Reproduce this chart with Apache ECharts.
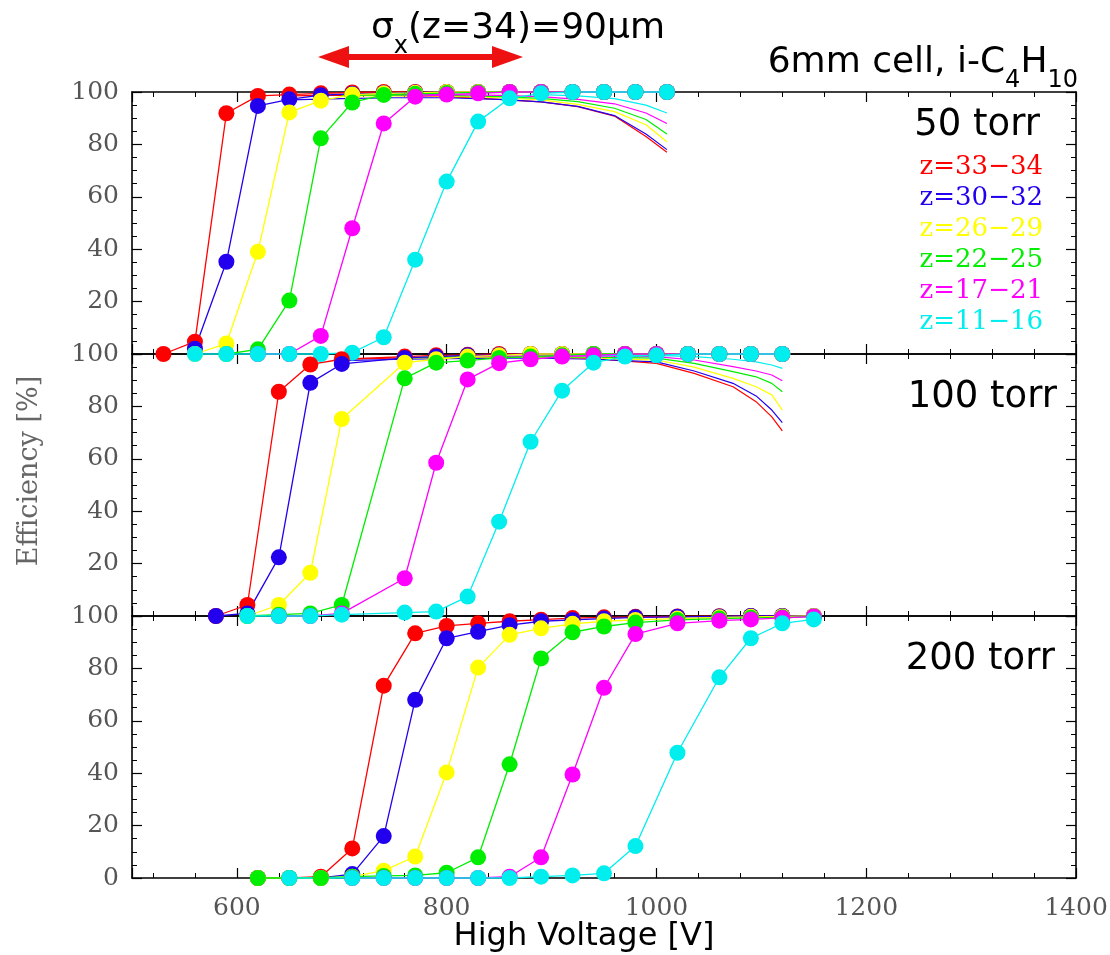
<!DOCTYPE html>
<html>
<head>
<meta charset="utf-8">
<title>Efficiency vs High Voltage</title>
<script src="https://cdn.jsdelivr.net/npm/echarts@6/dist/echarts.min.js"></script>
<style>
  html, body { margin: 0; padding: 0; background: #fff; }
  #chart { width: 1110px; height: 955px; }
</style>
</head>
<body>
<div id="chart"></div>
<script>
// z-ranges (legend), one colour each
var zNames = ["z=33\u221234", "z=30\u221232", "z=26\u221229", "z=22\u221225", "z=17\u221221", "z=11\u221216"];
var zColors = ["#ff0000", "#2200ee", "#ffff00", "#00ee00", "#ff00ff", "#00eeee"];
var panelLabels = ["50 torr", "100 torr", "200 torr"];

// ---- 50 torr : measured points ----
var hv50 = [530, 560, 590, 620, 650, 680, 710, 740, 770, 800, 830, 860, 890, 920, 950, 980, 1010];
var red50 = [0, 4.7, 91.9, 98.5, 99, 99.5, 99.8, 100, 100, 100, 100, 100, 100, 100, 100, 100, 100];
var blue50 = [null, 2, 35.2, 94.7, 97.2, 98.8, 99.3, 99.6, 99.8, 100, 100, 100, 100, 100, 100, 100, 100];
var yellow50 = [null, 0, 4, 39, 92.2, 96.7, 99, 99.5, 99.7, 100, 100, 100, 100, 100, 100, 100, 100];
var green50 = [null, null, 0, 1.8, 20.4, 82.3, 96, 98.9, 99.3, 99.6, 99.8, 100, 100, 100, 100, 100, 100];
var magenta50 = [null, null, null, 0, 0, 6.9, 48, 88, 98.2, 99, 99.5, 100, 100, 100, 100, 100, 100];
var cyan50 = [null, 0, 0, 0, 0, 0, 0.5, 6.4, 36, 65.8, 88.7, 97.6, 99.5, 100, 100, 100, 100];
// 50 torr : fall-off curves at high voltage
var tail50 = [650, 700, 750, 800, 850, 890, 925, 960, 990, 1010];
var red50t = [98.5, 98.8, 98.7, 98.2, 97.2, 96.2, 94.4, 90.8, 83, 77];
var blue50t = [97, 97.5, 97.8, 97.8, 97.2, 96.2, 94.5, 91, 84, 78];
var yellow50t = [null, 98.5, 98.6, 98.4, 97.8, 97, 95.3, 92.5, 87.5, 81];
var green50t = [null, 98.7, 98.9, 98.7, 98.2, 97.6, 96.3, 93.8, 89.5, 84];
var magenta50t = [null, null, 99, 99, 98.7, 98.2, 97.2, 95.5, 92, 88];
var cyan50t = [null, null, null, null, null, 99, 98.5, 97.5, 95, 92];

// ---- 100 torr ----
var hv100 = [580, 610, 640, 670, 700, 760, 790, 820, 850, 880, 910, 940, 970, 1000, 1030, 1060, 1090, 1120];
var red100 = [0, 4.2, 85.6, 96, 98, 99, 99.5, 99.7, 100, 100, 100, 100, 100, 100, 100, 100, 100, 100];
var blue100 = [0, 1, 22.4, 89, 96.2, 98.5, 99, 99.5, 99.7, 100, 100, 100, 100, 100, 100, 100, 100, 100];
var yellow100 = [null, 0, 4.2, 16.5, 75.2, 96.7, 98, 99, 99.5, 100, 100, 100, 100, 100, 100, 100, 100, 100];
var green100 = [null, 0, 0.5, 1, 4.2, 90.7, 96.7, 97.5, 98.5, 99, 99.5, 100, 100, 100, 100, 100, 100, 100];
var magenta100 = [null, null, 0, 0, 1, 14.4, 58.5, 90.3, 96.5, 98, 99, 99.5, 100, 100, 100, 100, 100, 100];
var cyan100 = [null, 0, 0, 0, 0.5, 1.3, 1.7, 7.4, 36, 66.5, 86, 96.7, 99, 99.5, 100, 100, 100, 100];
var tail100 = [700, 760, 820, 880, 940, 1000, 1036, 1073, 1095, 1110, 1120];
var red100t = [98, 98.5, 98.8, 98.8, 98.2, 96.4, 92.6, 87.5, 81.8, 76, 70.7];
var blue100t = [97.5, 98, 98.3, 98.5, 98, 97, 93.5, 88.8, 84, 78.6, 73.8];
var yellow100t = [null, 98.5, 98.8, 98.8, 98.5, 97.7, 95, 90.7, 87.5, 84.4, 78.6];
var green100t = [null, 98.5, 99, 99, 98.8, 98.4, 96.4, 93.3, 91.3, 88.8, 85.6];
var magenta100t = [null, null, 99, 99.3, 99.3, 99, 97.7, 95.2, 93.5, 92, 89.8];
var cyan100t = [null, null, null, null, 99.5, 99.5, 99, 98, 97, 95.8, 94.5];

// ---- 200 torr ----
var hv200 = [620, 650, 680, 710, 740, 770, 800, 830, 860, 890, 920, 950, 980, 1020, 1060, 1090, 1120, 1150];
var red200 = [0, 0, 0.5, 11.3, 73.4, 93.4, 96.2, 97.2, 98, 98.6, 99.2, 99.5, 99.7, 99.8, 99.9, 100, 100, 100];
var blue200 = [0, 0, 0, 1.5, 16, 68, 91.5, 94, 96.5, 98, 98.5, 99, 99.5, 99.7, 99.8, 100, 100, 100];
var yellow200 = [0, 0, 0, 0.5, 2.8, 8.2, 40.3, 80.3, 92.8, 95.3, 97, 98, 98.5, 99, 99.5, 99.7, 99.8, 100];
var green200 = [0, 0, 0, 0.5, 0.8, 1, 2, 7.9, 43.4, 83.8, 93.8, 96, 97.5, 98.5, 99, 99.3, 99.5, 99.8];
var magenta200 = [null, null, null, 0, 0, 0, 0, 0, 0.5, 7.9, 39.5, 72.6, 93.1, 97.2, 98.2, 98.7, 99.3, 99.8];
var cyan200 = [null, 0, null, 0, 0, 0, 0, 0, 0, 0.5, 1, 1.8, 12.2, 47.8, 76.6, 91.5, 97.2, 98.7];

var yTicks = [0, 20, 40, 60, 80, 100];
var xTicks = [600, 800, 1000, 1200, 1400];

var panels = [
  { x: hv50, ys: [red50, blue50, yellow50, green50, magenta50, cyan50],
    tx: tail50, tys: [red50t, blue50t, yellow50t, green50t, magenta50t, cyan50t] },
  { x: hv100, ys: [red100, blue100, yellow100, green100, magenta100, cyan100],
    tx: tail100, tys: [red100t, blue100t, yellow100t, green100t, magenta100t, cyan100t] },
  { x: hv200, ys: [red200, blue200, yellow200, green200, magenta200, cyan200],
    tx: null, tys: [] }
];

function pairs(xs, ys) {
  var out = [];
  for (var i = 0; i < xs.length; i++) {
    if (ys[i] != null) out.push([xs[i], ys[i]]);
  }
  return out;
}

var chart = echarts.init(document.getElementById("chart"), null, { renderer: "canvas" });

var PLOT_LEFT = 132, PLOT_W = 944, PANEL_H = 262, PLOT_TOP = 92;
var serif = "'DejaVu Serif', serif";
var sans = "'DejaVu Sans', sans-serif";

var grids = [], xAxes = [], yAxes = [], series = [];
panels.forEach(function (p, g) {
  grids.push({ left: PLOT_LEFT, top: PLOT_TOP + g * PANEL_H, width: PLOT_W, height: PANEL_H, outerBoundsMode: "none" });
  var isLast = g === panels.length - 1;
  ["bottom", "top"].forEach(function (pos) {
    // no interval here: 500 is not a multiple of 200, so let the axis find 600, 800, ...
    xAxes.push({
      gridIndex: g, type: "value", position: pos, min: 500, max: 1400, splitNumber: 5,
      axisLine: { onZero: false, lineStyle: { color: "#000", width: 1.6 } },
      axisTick: { inside: true, length: 10, lineStyle: { color: "#000", width: 1.2 } },
      minorTick: { show: true, splitNumber: 5, length: 5, lineStyle: { color: "#000", width: 1 } },
      splitLine: { show: false },
      axisLabel: {
        show: isLast && pos === "bottom", margin: 18, color: "#555", fontSize: 25, fontFamily: serif,
        showMinLabel: false,
        formatter: function (v) { return xTicks.indexOf(v) >= 0 ? String(v) : ""; }
      }
    });
  });
  ["left", "right"].forEach(function (pos) {
    yAxes.push({
      gridIndex: g, type: "value", position: pos, min: 0, max: 100, interval: 20,
      axisLine: { onZero: false, lineStyle: { color: "#000", width: 1.6 } },
      axisTick: { inside: true, length: 10, lineStyle: { color: "#000", width: 1.2 } },
      minorTick: { show: true, splitNumber: 4, length: 5, lineStyle: { color: "#000", width: 1 } },
      splitLine: { show: false },
      axisLabel: {
        show: pos === "left", showMinLabel: isLast, margin: 13, color: "#555", fontSize: 25, fontFamily: serif,
        formatter: function (v) { return yTicks.indexOf(v) >= 0 ? String(v) : ""; }
      }
    });
  });

  p.ys.forEach(function (ys, k) {
    series.push({
      type: "line", name: zNames[k], xAxisIndex: g * 2, yAxisIndex: g * 2,
      data: pairs(p.x, ys), symbol: "circle", symbolSize: 16, clip: false,
      itemStyle: { color: zColors[k] }, lineStyle: { color: zColors[k], width: 1.3 },
      z: 3
    });
  });
  if (p.tx) {
    p.tys.forEach(function (ys, k) {
      series.push({
        type: "line", name: zNames[k] + " tail", xAxisIndex: g * 2, yAxisIndex: g * 2,
        data: pairs(p.tx, ys), symbol: "none", showSymbol: false, clip: false,
        lineStyle: { color: zColors[k], width: 1.2 }, z: 2
      });
    });
  }
});

var subRich = {
  m: { fontSize: 36, fontFamily: sans, lineHeight: 42, verticalAlign: "top", fill: "#000" },
  s: { fontSize: 24, fontFamily: sans, lineHeight: 24, padding: [24, 0, 0, 0], verticalAlign: "top", fill: "#000" }
};

var graphics = [
  // top annotation
  { type: "text", x: 518, y: 32, style: {
      text: "{m|\u03c3}{s|x}{m|(z=34)=90\u03bcm}", textAlign: "center", align: "center",
      textVerticalAlign: "middle", verticalAlign: "middle", fill: "#000", rich: subRich } },
  { type: "polygon", shape: { points: [[318, 57], [349, 46], [349, 54], [492, 54], [492, 46], [523, 57], [492, 68], [492, 60], [349, 60], [349, 68]] },
    style: { fill: "#ee1111" } },
  { type: "text", x: 1078, y: 66, style: {
      text: "{m|6mm cell, i-C}{s|4}{m|H}{s|10}", textAlign: "right", align: "right",
      textVerticalAlign: "middle", verticalAlign: "middle", fill: "#000", rich: subRich } },
  // axis names
  { type: "text", x: 584, y: 937, style: { text: "High Voltage [V]", fontSize: 32, fontFamily: sans, fill: "#000",
      textAlign: "center", align: "center", textVerticalAlign: "middle", verticalAlign: "middle" } },
  { type: "text", x: 30, y: 471, rotation: Math.PI / 2, style: { text: "Efficiency [%]", fontSize: 27, fontFamily: serif, fill: "#666",
      textAlign: "center", align: "center", textVerticalAlign: "middle", verticalAlign: "middle" } }
];

// pressure labels
var panelLabelPos = [[1040, 125], [1057, 397], [1055, 659]];
panelLabels.forEach(function (t, i) {
  graphics.push({ type: "text", x: panelLabelPos[i][0], y: panelLabelPos[i][1], style: {
    text: t, fontSize: 37, fontFamily: sans, fill: "#000",
    textAlign: "right", align: "right", textVerticalAlign: "middle", verticalAlign: "middle" } });
});
// z legend
zNames.forEach(function (t, i) {
  graphics.push({ type: "text", x: 1043, y: 167 + i * 31, style: {
    text: t, fontSize: 26, fontFamily: serif, fill: zColors[i],
    textAlign: "right", align: "right", textVerticalAlign: "middle", verticalAlign: "middle" } });
});

var option = {
  animation: false,
  backgroundColor: "#fff",
  grid: grids,
  xAxis: xAxes,
  yAxis: yAxes,
  series: series,
  graphic: graphics
};
chart.setOption(option);
window.addEventListener("resize", function () { chart.resize(); });
</script>
</body>
</html>
